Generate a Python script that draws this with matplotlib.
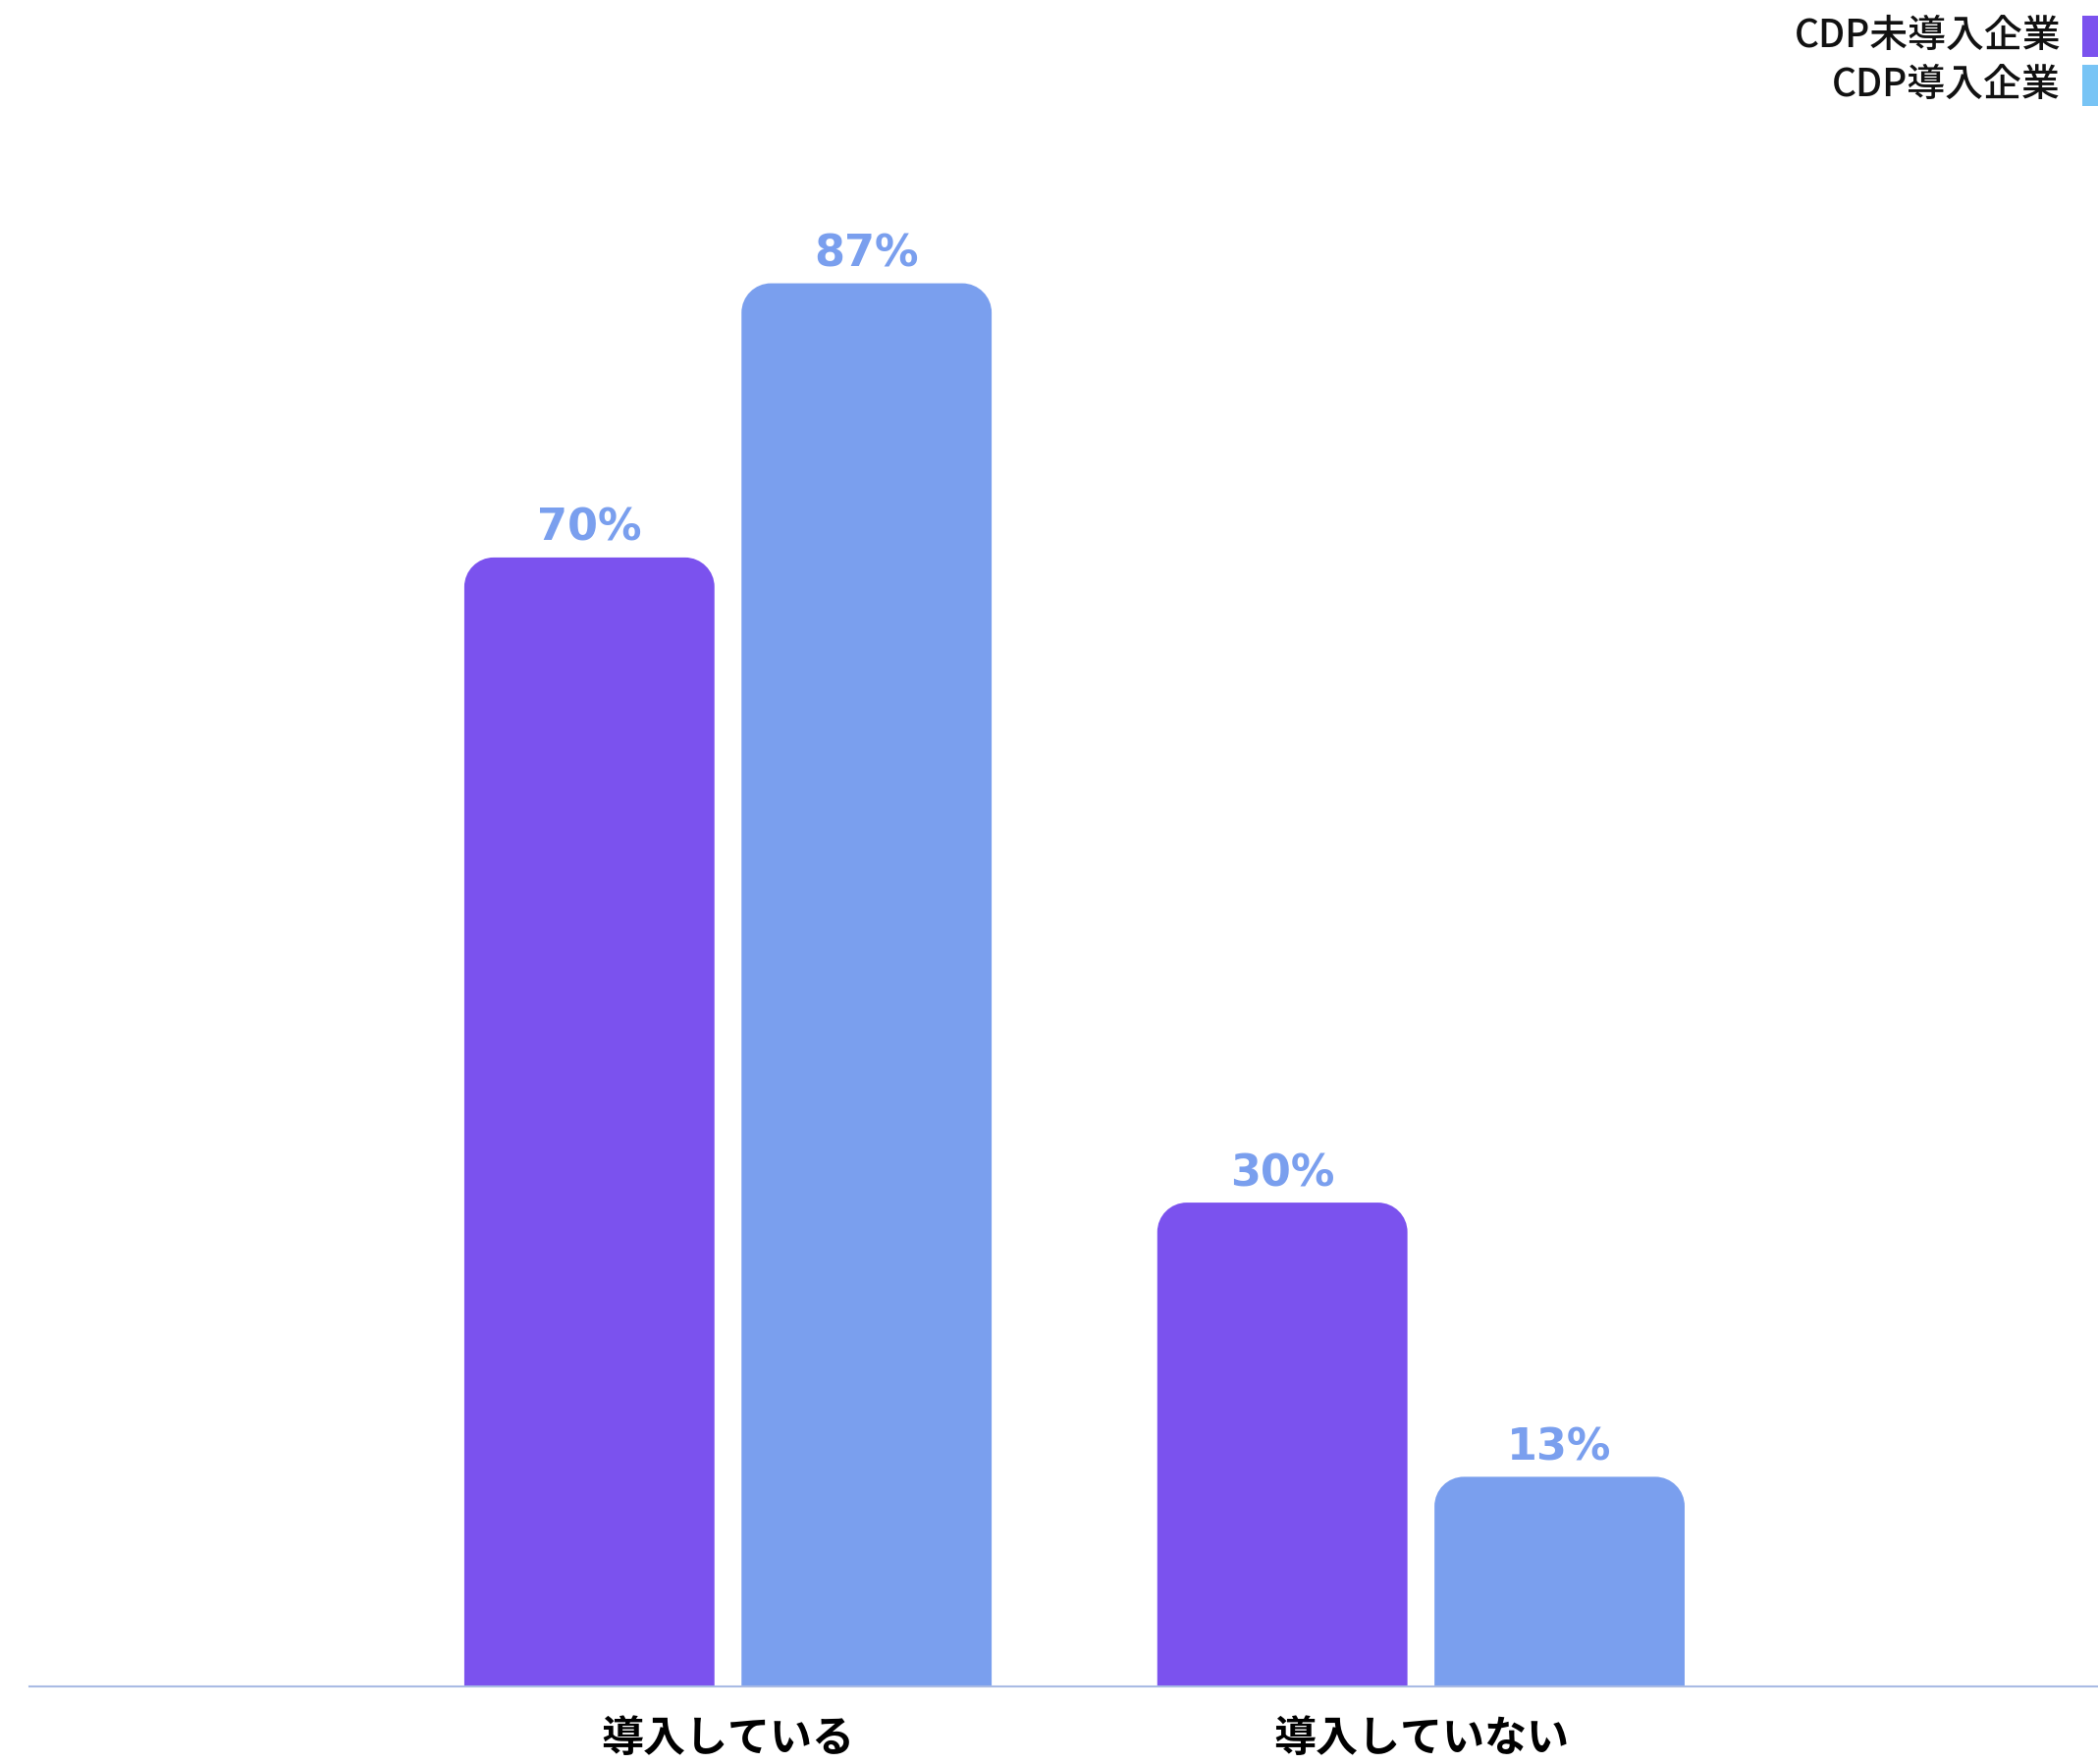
import matplotlib
matplotlib.use("Agg")
import matplotlib.pyplot as plt
from matplotlib.path import Path
from matplotlib.patches import PathPatch, Rectangle

plt.rcParams["font.family"] = ["Noto Sans CJK JP", "DejaVu Sans"]

# Data
categories = ["導入している", "導入していない"]
series_names = ["CDP未導入企業", "CDP導入企業"]
not_adopted = [70, 30]
adopted = [87, 13]

BAR_COLORS = ["#7B52EE", "#7A9FEE"]
LEGEND_COLORS = ["#7B52EE", "#78C4F5"]
LABEL_COLOR = "#7A9FEE"
AXIS_COLOR = "#A9BBE4"

W, H, DPI = 2137, 1797, 100
BAR_W = 0.361
OFFSET = 0.2
RADIUS_PX = 30


def rounded_top(ax, rect, r_px):
    """Replace a bar rectangle with one whose top corners are rounded."""
    x, y = rect.get_x(), rect.get_y()
    w, h = rect.get_width(), rect.get_height()
    t = ax.transData
    p0 = t.transform((0, 0))
    p1 = t.transform((1, 1))
    rx = r_px / (p1[0] - p0[0])
    ry = r_px / (p1[1] - p0[1])
    ry = min(ry, h)
    k = 0.5523
    verts = [
        (x, y),
        (x, y + h - ry),
        (x, y + h - ry + k * ry), (x + rx - k * rx, y + h), (x + rx, y + h),
        (x + w - rx, y + h),
        (x + w - rx + k * rx, y + h), (x + w, y + h - ry + k * ry), (x + w, y + h - ry),
        (x + w, y),
        (x, y),
    ]
    codes = [Path.MOVETO, Path.LINETO,
             Path.CURVE4, Path.CURVE4, Path.CURVE4,
             Path.LINETO,
             Path.CURVE4, Path.CURVE4, Path.CURVE4,
             Path.LINETO, Path.CLOSEPOLY]
    patch = PathPatch(Path(verts, codes), facecolor=rect.get_facecolor(),
                      edgecolor="none", zorder=2)
    rect.set_visible(False)
    ax.add_patch(patch)


fig = plt.figure(figsize=(W / DPI, H / DPI), dpi=DPI)
left_px, base_px, top_px = 30, 1718, 75
ax = fig.add_axes([left_px / W, (H - base_px) / H, 1 - left_px / W,
                   (base_px - top_px) / H])

xs = list(range(len(categories)))
ax.set_xlim(-1.008, 1.977)
ax.set_ylim(0, 100)

for vals, dx, color in [(not_adopted, -OFFSET, BAR_COLORS[0]),
                        (adopted, OFFSET, BAR_COLORS[1])]:
    bars = ax.bar([x + dx for x in xs], vals, width=BAR_W, color=color)
    for rect, v in zip(bars, vals):
        rounded_top(ax, rect, RADIUS_PX)
        ax.annotate(f"{v}%", (rect.get_x() + rect.get_width() / 2, v),
                    xytext=(0, 8), textcoords="offset pixels",
                    ha="center", va="bottom", fontsize=32, fontweight="bold",
                    color=LABEL_COLOR, family=["DejaVu Sans"])

for side in ["top", "right", "left"]:
    ax.spines[side].set_visible(False)
ax.spines["bottom"].set_color(AXIS_COLOR)
ax.spines["bottom"].set_linewidth(1.5)
ax.set_yticks([])
ax.set_xticks(xs)
ax.set_xticklabels(categories, fontsize=31, fontweight="bold")
ax.tick_params(axis="x", length=0, pad=22)

# Legend at the top right, labels to the left of the swatches
legend_y = [37, 87]
for name, color, yc in zip(series_names, LEGEND_COLORS, legend_y):
    fig.text(2099 / W, 1 - yc / H, name, ha="right", va="center",
             fontsize=28, fontweight="medium", color="#111111")
    fig.patches.append(Rectangle((2121 / W, 1 - (yc + 21) / H), 30 / W, 42 / H,
                                 transform=fig.transFigure, facecolor=color,
                                 edgecolor="none"))

fig.savefig("out.png", dpi=DPI)
